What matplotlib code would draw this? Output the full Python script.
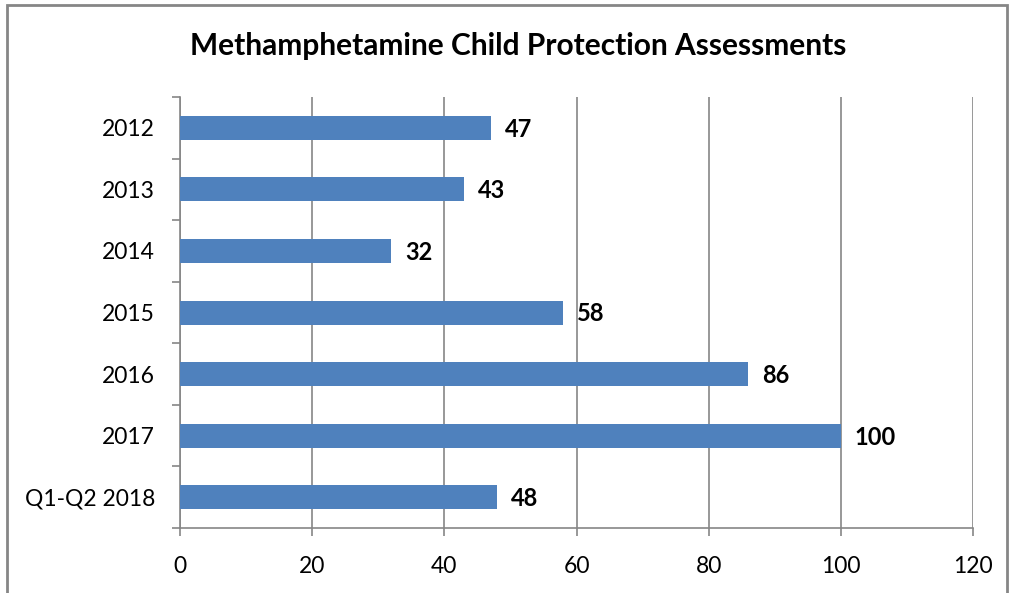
import matplotlib.pyplot as plt
from matplotlib.patches import Rectangle

# assessment counts per year
years = ["2012", "2013", "2014", "2015", "2016", "2017", "Q1-Q2 2018"]
counts = [47, 43, 32, 58, 86, 100, 48]
xticks = [0, 20, 40, 60, 80, 100, 120]

plt.rcParams['font.family'] = ['Lato', 'DejaVu Sans']
grey = "#868686"
bar_color = "#4F81BD"

fig = plt.figure(figsize=(10.14, 5.93), dpi=100)
ax = fig.add_axes([0.1775, 0.1096, 0.7821, 0.7268])

pos = list(range(len(years)))
ax.barh(pos, counts, height=0.39, color=bar_color, zorder=3)
ax.set_ylim(len(years) - 0.5, -0.5)
ax.set_xlim(0, 120)

for p, c in zip(pos, counts):
    ax.annotate(str(c), (c, p), xytext=(10, -1), textcoords="offset points",
                ha="left", va="center", fontsize=17, fontweight="bold")

# y ticks sit between the categories, labels in the middle
ax.set_yticks([p - 0.5 for p in pos] + [len(years) - 0.5])
ax.set_yticklabels([])
ax.set_yticks(pos, minor=True)
ax.set_yticklabels(years, minor=True, fontsize=16.5)
ax.tick_params(axis="y", which="minor", length=0, pad=18)
ax.tick_params(axis="y", which="major", length=6, color=grey, width=1.2)

ax.set_xticks(xticks)
ax.set_xticklabels([str(t) for t in xticks], fontsize=16.5)
ax.tick_params(axis="x", length=6, color=grey, width=1.2, pad=14)
ax.xaxis.grid(True, color=grey, linewidth=1.2, zorder=0)

for s in ["top", "right"]:
    ax.spines[s].set_visible(False)
for s in ["left", "bottom"]:
    ax.spines[s].set_color(grey)
    ax.spines[s].set_linewidth(1.2)

fig.text(0.511, 0.922, "Methamphetamine Child Protection Assessments",
         ha="center", va="center", fontsize=21.5, fontweight="bold")

# outer chart frame
fig.patches.append(Rectangle((7 / 1014, -0.05), 1000 / 1014, 1 - 5 / 593 + 0.05,
                             transform=fig.transFigure, fill=False,
                             edgecolor=grey, linewidth=2))

fig.savefig("out.png", dpi=100)
